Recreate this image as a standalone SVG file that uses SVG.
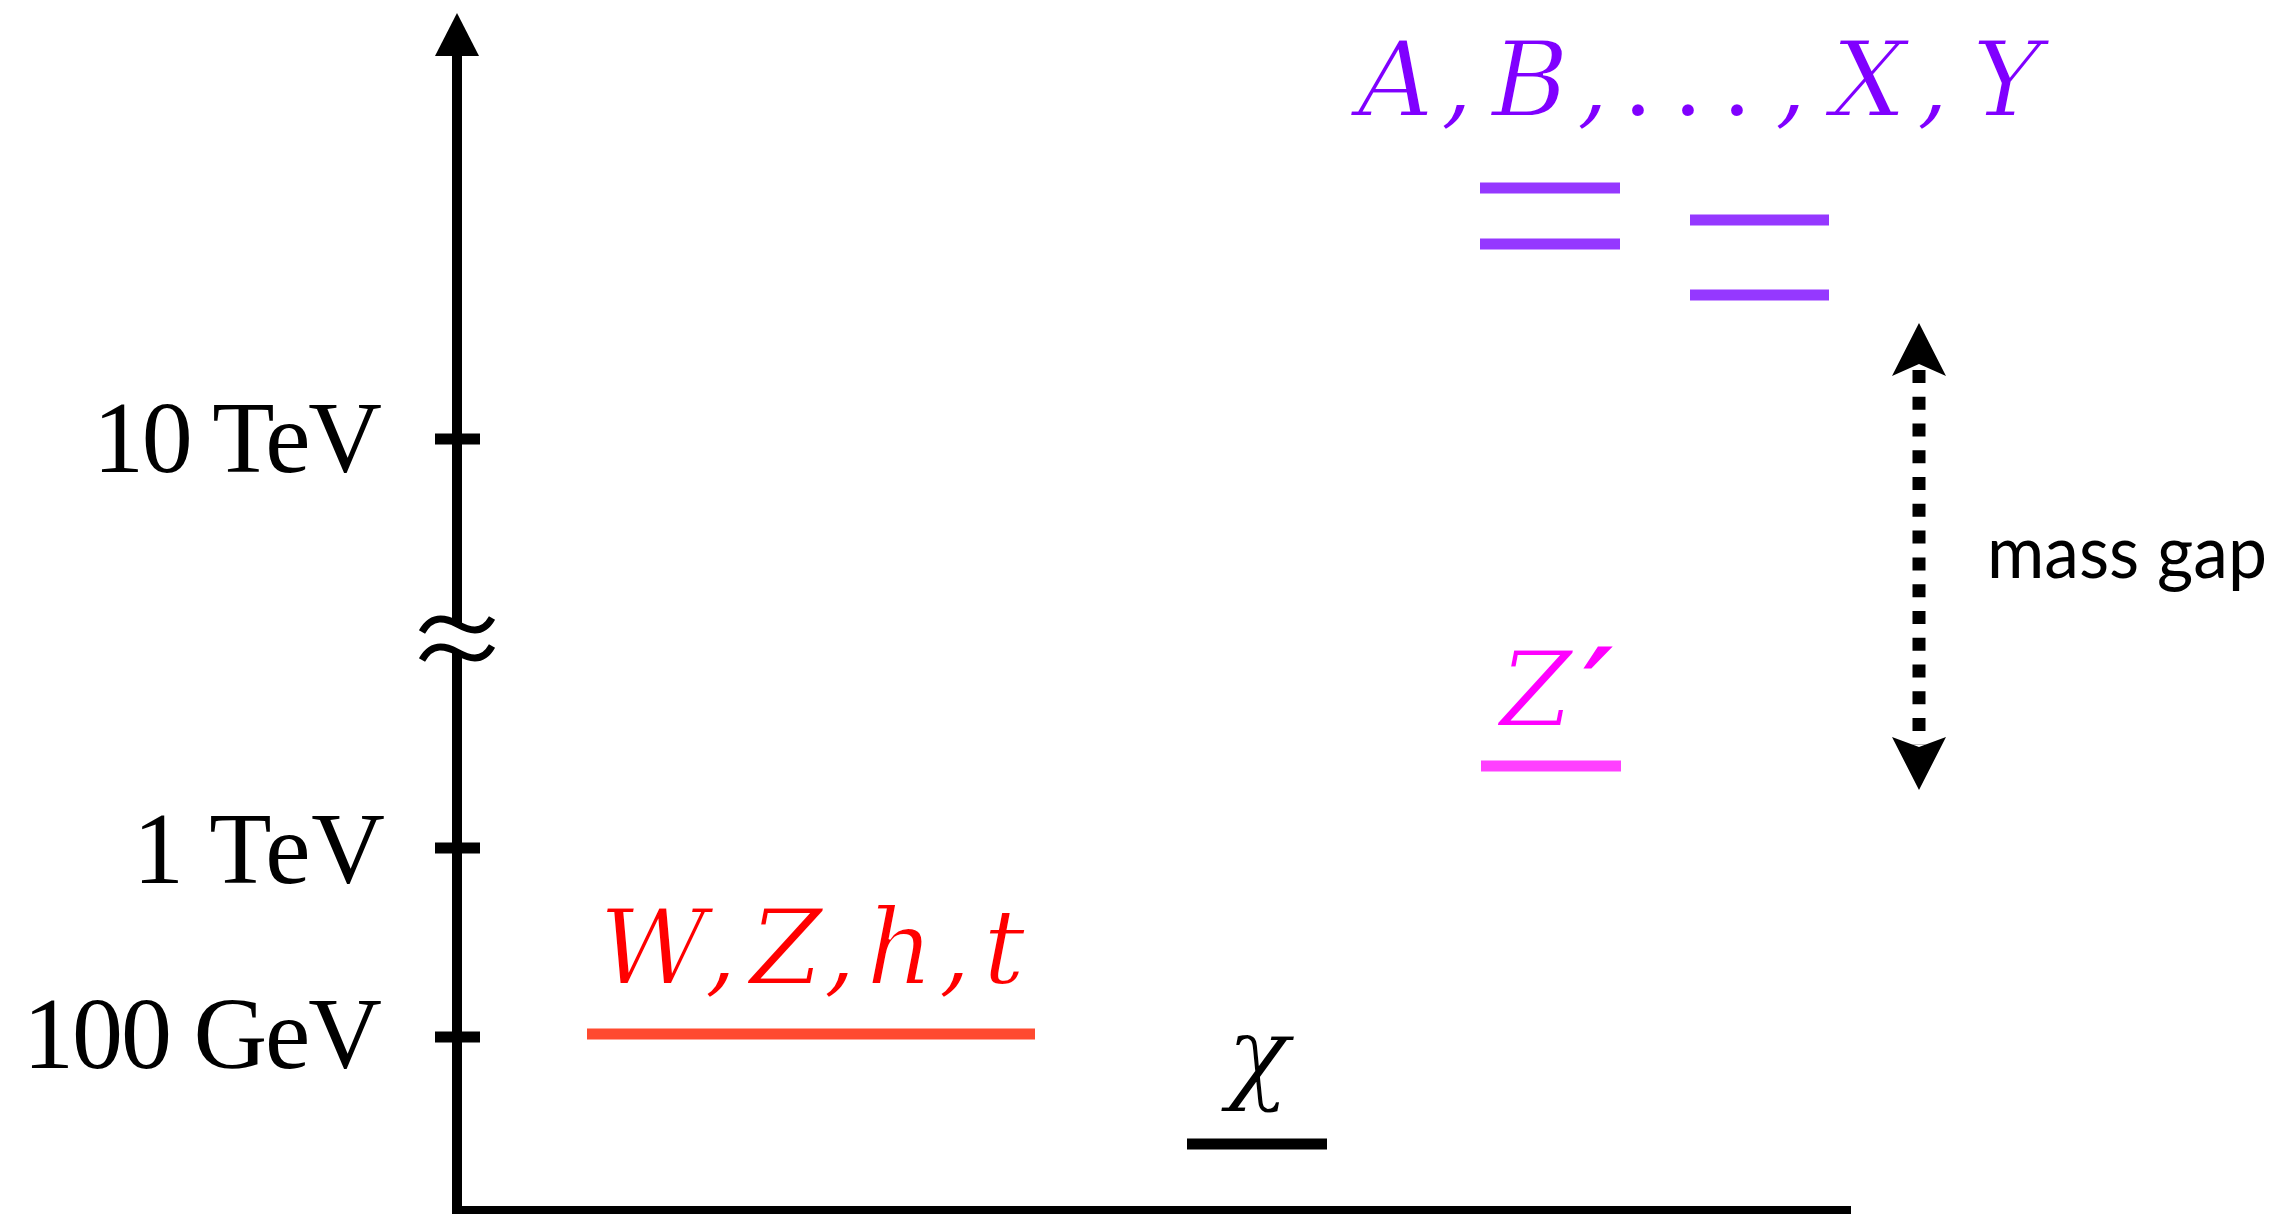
<svg xmlns="http://www.w3.org/2000/svg" width="2282" height="1214" viewBox="0 0 2282 1214">
<style>
.axis{stroke:#000;stroke-width:10;fill:none}
.tick{stroke:#000;stroke-width:11}
.brk{stroke:#000;stroke-width:7;fill:none;stroke-linecap:butt}
.lab{font-family:"Liberation Serif","DejaVu Serif",serif;font-size:102px;fill:#000}
.math{font-family:"DejaVu Serif",serif;font-style:italic;font-size:105px;text-anchor:middle;stroke:#fff;stroke-width:1.8px}
.up{font-style:normal}
.lvl{stroke-width:11}
.gap{font-family:Lato,"Open Sans",sans-serif;font-size:74px;fill:#000}
</style>
<rect width="2282" height="1214" fill="#fff"/>
<g id="axes">
  <line class="axis" x1="457" y1="50" x2="457" y2="625"/>
  <line class="axis" x1="457" y1="651" x2="457" y2="1214"/>
  <polygon points="457,13 479,56 435,56" fill="#000"/>
  <line class="axis" x1="452" y1="1211" x2="1851" y2="1211"/>
  <path class="brk" d="M422,632 C432,614 446,618 457,624 C468,630 482,636 492,618"/>
  <path class="brk" d="M422,660 C432,642 446,646 457,652 C468,658 482,664 492,646"/>
</g>
<g id="ticks">
  <line class="tick" x1="435" y1="439" x2="480" y2="439"/>
  <line class="tick" x1="435" y1="848" x2="480" y2="848"/>
  <line class="tick" x1="435" y1="1037" x2="480" y2="1037"/>
  <text class="lab" x="93" y="472" textLength="289" lengthAdjust="spacing">10 TeV</text>
  <text class="lab" x="133" y="883" textLength="252" lengthAdjust="spacing">1 TeV</text>
  <text class="lab" x="23" y="1068" textLength="359" lengthAdjust="spacing">100 GeV</text>
</g>
<g id="heavy">
  <text class="math" y="116" fill="#8000FF"><tspan x="1396">A</tspan><tspan x="1457">,</tspan><tspan x="1530">B</tspan><tspan x="1593">,</tspan><tspan class="up" x="1638">.</tspan><tspan class="up" x="1688">.</tspan><tspan class="up" x="1737">.</tspan><tspan x="1791">,</tspan><tspan x="1869">X</tspan><tspan x="1933">,</tspan><tspan x="2007">Y</tspan></text>
  <line class="lvl" x1="1480" y1="188" x2="1620" y2="188" stroke="#9538FF"/>
  <line class="lvl" x1="1480" y1="244" x2="1620" y2="244" stroke="#9538FF"/>
  <line class="lvl" x1="1690" y1="220" x2="1829" y2="220" stroke="#9538FF"/>
  <line class="lvl" x1="1690" y1="295" x2="1829" y2="295" stroke="#9538FF"/>
</g>
<g id="zprime">
  <text class="math" x="1536" y="726" fill="#FF00FF">Z</text>
  <text class="math" x="1598" y="724" fill="#FF00FF" font-size="260" style="stroke:#FF00FF;stroke-width:3px">′</text>
  <line class="lvl" x1="1481" y1="766" x2="1621" y2="766" stroke="#FF40FF"/>
</g>
<g id="sm">
  <text class="math" y="984" fill="#FF0000"><tspan x="653">W</tspan><tspan x="721">,</tspan><tspan x="786">Z</tspan><tspan x="840">,</tspan><tspan x="900">h</tspan><tspan x="955">,</tspan><tspan x="1004">t</tspan></text>
  <line class="lvl" x1="587" y1="1034" x2="1035" y2="1034" stroke="#FF4A30"/>
</g>
<g id="chi">
  <text class="math" x="1258" y="1090" fill="#000">χ</text>
  <line class="lvl" x1="1187" y1="1144" x2="1327" y2="1144" stroke="#000"/>
</g>
<g id="connectors">
  <line x1="1919" y1="370" x2="1919" y2="745" stroke="#000" stroke-width="13" stroke-dasharray="13 13.77"/>
  <path d="M1919,323 L1946,376 L1919,364 L1892,376 Z" fill="#000"/>
  <path d="M1919,790 L1946,737 L1919,747 L1892,737 Z" fill="#000"/>
</g>
<g id="massgap">
  <text class="gap" x="1987" y="578" textLength="280" lengthAdjust="spacingAndGlyphs">mass gap</text>
</g>
</svg>
